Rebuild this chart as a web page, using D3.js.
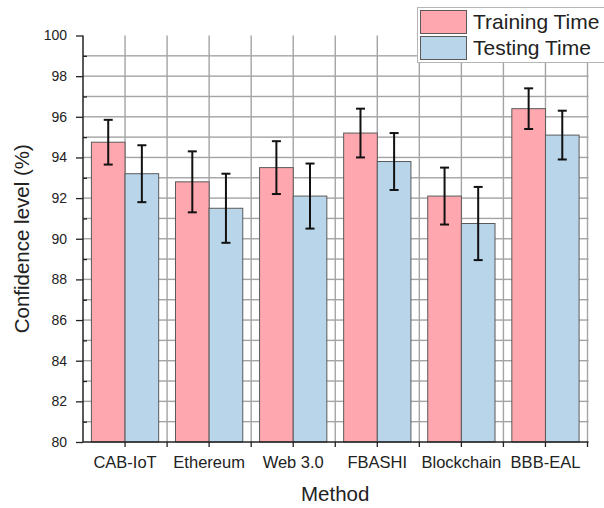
<!DOCTYPE html>
<html><head><meta charset="utf-8">
<script src="https://cdn.jsdelivr.net/npm/d3@7"></script>
<style>body{margin:0;background:#fff;} svg{display:block;font-family:Arial,"Liberation Sans",sans-serif;}</style>
</head><body>
<svg id="c" width="604" height="508"></svg>
<script>
const categories = ["CAB-IoT","Ethereum","Web 3.0","FBASHI","Blockchain","BBB-EAL"];
const seriesNames = ["Training Time","Testing Time"];
const trainingValues = [94.75, 92.8, 93.5, 95.2, 92.1, 96.4];
const trainingErrors = [1.1, 1.5, 1.3, 1.2, 1.4, 1.0];
const testingValues = [93.2, 91.5, 92.1, 93.8, 90.75, 95.1];
const testingErrors = [1.4, 1.7, 1.6, 1.4, 1.8, 1.2];
const yTicks = [80,82,84,86,88,90,92,94,96,98,100];
const colors = ["#ffa7ae", "#b9d5ea"];

const svg = d3.select("#c");
const L = 83, R = 587.5, T = 35.5, B = 442;
const x = d3.scaleBand().domain(categories).range([L, R]).paddingInner(0.2).paddingOuter(0.1);
const xs = d3.scaleBand().domain(seriesNames).range([0, x.bandwidth()]);
const y = d3.scaleLinear().domain([80, 100]).range([B, T]);
const step = x.step();

// grid positions: group centers and group boundaries
const gx = [];
categories.forEach((c, i) => {
  gx.push(x(c) + x.bandwidth() / 2);
  if (i > 0) gx.push(x(c) - step * 0.1);
});
gx.push(R);
const gy = d3.range(81, 100);

const gridColor = "#a4a4a4";
const grid = svg.append("g").attr("id", "grid");
gx.forEach(d => {
  grid.append("rect").attr("x", d - 0.7).attr("y", T).attr("width", 1.4).attr("height", B - T).attr("fill", gridColor);
});
gy.forEach(d => {
  grid.append("rect").attr("x", L).attr("y", y(d) - 0.7).attr("width", R + 1 - L).attr("height", 1.4).attr("fill", gridColor);
});

// bars with error bars
const data = categories.map((c, i) => ({c, vals: [
  {s: seriesNames[0], v: trainingValues[i], e: trainingErrors[i], col: colors[0]},
  {s: seriesNames[1], v: testingValues[i], e: testingErrors[i], col: colors[1]}
]}));
const g = svg.append("g");
data.forEach(d => {
  d.vals.forEach(s => {
    const bx = x(d.c) + xs(s.s);
    g.append("rect").attr("x", bx).attr("y", y(s.v)).attr("width", xs.bandwidth()).attr("height", B - y(s.v))
      .attr("fill", s.col).attr("stroke", "#5a5a5a").attr("stroke-width", 1);
    const cx = bx + xs.bandwidth() / 2;
    const eg = g.append("g").attr("stroke", "#111").attr("stroke-width", 2);
    eg.append("line").attr("x1", cx).attr("x2", cx).attr("y1", y(s.v + s.e)).attr("y2", y(s.v - s.e));
    eg.append("line").attr("x1", cx - 4.5).attr("x2", cx + 4.5).attr("y1", y(s.v + s.e)).attr("y2", y(s.v + s.e));
    eg.append("line").attr("x1", cx - 4.5).attr("x2", cx + 4.5).attr("y1", y(s.v - s.e)).attr("y2", y(s.v - s.e));
  });
});

// y axis
const yAxis = d3.axisLeft(y).tickValues(yTicks).tickSize(7).tickPadding(9).tickFormat(d3.format("d"));
const ya = svg.append("g").attr("transform", `translate(${L},0)`).call(yAxis);
ya.select(".domain").remove();
ya.selectAll("text").attr("font-size", 14).attr("fill", "#222");
ya.selectAll("line").attr("stroke", "#222").attr("stroke-width", 1.3);
const yMinor = d3.axisRight(y).tickValues(d3.range(81, 100, 2)).tickSize(4).tickFormat("");
const ym = svg.append("g").attr("transform", `translate(${L},0)`).call(yMinor);
ym.select(".domain").remove();
ym.selectAll("line").attr("stroke", "#222").attr("stroke-width", 1.3);
svg.append("line").attr("x1", L).attr("x2", L).attr("y1", T).attr("y2", B).attr("stroke", "#222").attr("stroke-width", 1.5);

// x axis
const xAxis = d3.axisBottom(x).tickSize(0).tickPadding(14);
const xa = svg.append("g").attr("transform", `translate(0,${B})`).call(xAxis);
xa.select(".domain").remove();
xa.selectAll("text").attr("font-size", 16.5).attr("fill", "#222");
svg.append("line").attr("x1", L).attr("x2", R + 1).attr("y1", B).attr("y2", B).attr("stroke", "#222").attr("stroke-width", 1.5);
const xt = svg.append("g");
gx.forEach(d => {
  xt.append("rect").attr("x", d - 0.65).attr("y", B).attr("width", 1.3).attr("height", 5).attr("fill", "#222");
});

// axis titles
svg.append("text").attr("transform", `translate(29,${(T + B) / 2}) rotate(-90)`).attr("text-anchor", "middle")
  .attr("font-size", 20.5).attr("fill", "#222").text("Confidence level (%)");
svg.append("text").attr("x", (L + R) / 2).attr("y", 501).attr("text-anchor", "middle")
  .attr("font-size", 20.5).attr("fill", "#222").text("Method");

// legend
const lg = svg.append("g");
lg.append("rect").attr("x", 417.5).attr("y", 7.5).attr("width", 200).attr("height", 55)
  .attr("fill", "#fff").attr("stroke", "#b5b5b5").attr("stroke-width", 1);
seriesNames.forEach((s, i) => {
  lg.append("rect").attr("x", 420.5).attr("y", 10.5 + i * 26).attr("width", 46).attr("height", 23)
    .attr("fill", colors[i]).attr("stroke", "#5a5a5a").attr("stroke-width", 1);
  lg.append("text").attr("x", 473).attr("y", 29 + i * 26).attr("font-size", 21).attr("fill", "#222").text(s);
});
</script>
</body></html>
